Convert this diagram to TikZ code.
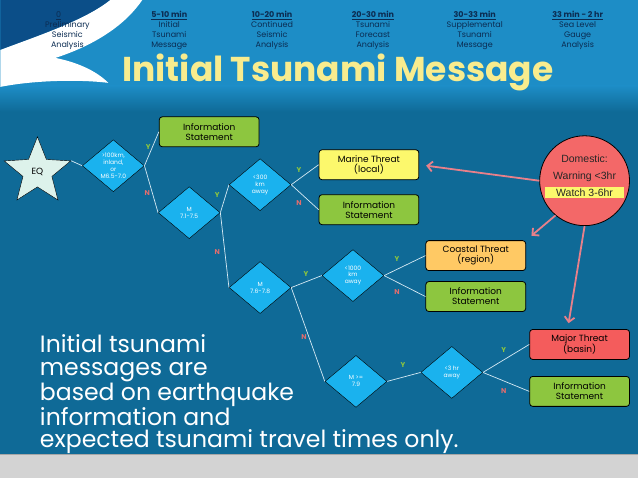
\documentclass[tikz,border=0pt]{standalone}
\usepackage{fontspec}
\setmainfont{Poppins}
\newfontfamily\arialfont{Liberation Sans}
\usetikzlibrary{shapes.geometric,arrows.meta}

\definecolor{mainblue}{HTML}{0F6A97}
\definecolor{topblue}{HTML}{1D8DC6}
\definecolor{cornerblue}{HTML}{0B4E88}
\definecolor{greyband}{HTML}{D3D3D3}
\definecolor{navytext}{HTML}{0B2C52}
\definecolor{titleyellow}{HTML}{F8EC8E}
\definecolor{diablue}{HTML}{1AB2EE}
\definecolor{boxgreen}{HTML}{8DC63F}
\definecolor{boxyellow}{HTML}{FCF86C}
\definecolor{boxorange}{HTML}{FFC964}
\definecolor{boxred}{HTML}{F45C5C}
\definecolor{domred}{HTML}{F36868}
\definecolor{alertpink}{HTML}{E8808A}
\definecolor{starfill}{HTML}{DDF2EB}
\definecolor{ygreen}{HTML}{8DC63F}
\definecolor{nred}{HTML}{E36D6D}
\definecolor{linkcol}{HTML}{D6EAF4}

\begin{document}
\begin{tikzpicture}[x=1pt,y=-1pt,
      dia/.style={
        diamond,
        draw=black,
        fill=diablue,
        text=white,
        minimum width=62pt,
        minimum height=52pt,
        inner sep=0pt,
        align=center,
        font=\fontsize{6}{7}\selectfont  % tiny text inside the diamonds
      },
      infobox/.style={
        rectangle,
        rounded corners=3pt,
        draw=black,
        line width=0.8pt,
        minimum width=100pt,
        minimum height=30pt,
        inner sep=0pt,
        align=center,
        font=\fontsize{9}{10}\selectfont
      },
      timeline/.style={anchor=north, align=center, text=navytext,
        font=\fontsize{8}{10}\selectfont},
      yes/.style={text=ygreen, font=\fontsize{7}{7}\bfseries\selectfont, inner sep=0pt},
      no/.style={text=nred, font=\fontsize{7}{7}\bfseries\selectfont, inner sep=0pt},
      link/.style={draw=linkcol, line width=0.7pt},
      alert/.style={draw=alertpink, line width=1.8pt,
        -{Straight Barb[length=5pt,width=10pt]}}
    ]
      % background
      \fill[mainblue] (0,0) rectangle (638,479);
      \fill[topblue] (0,0) rectangle (638,86);
      \shade[top color=topblue, bottom color=mainblue] (0,86) rectangle (638,112);
      \fill[greyband] (0,455) rectangle (638,479);
      \draw[gray!70, line width=1pt] (0,455.5) -- (638,455.5);
      \fill[cornerblue] (0,0) -- (110,0) .. controls (85,20) and (40,35) .. (0,50) -- cycle;
      \fill[white] (110,0) -- (142,0) .. controls (125,25) and (95,45) .. (55,58)
        .. controls (75,62) and (95,70) .. (108,83)
        .. controls (75,79) and (30,81) .. (0,87) -- (0,50)
        .. controls (40,35) and (85,20) .. (110,0) -- cycle;

      % time line
      \node[timeline] (t1) at (67,8) {\underline{0}\phantom{ min}\\Preliminary\\Seismic\\Analysis};
      \node[timeline] (t2) at (169,8) {\underline{\textbf{5-10 min}}\\Initial\\Tsunami\\Message};
      \node[timeline] (t3) at (272,8) {\underline{\textbf{10-20 min}}\\Continued\\Seismic\\Analysis};
      \node[timeline] (t4) at (373,8) {\underline{\textbf{20-30 min}}\\Tsunami\\Forecast\\Analysis};
      \node[timeline] (t5) at (475,8) {\underline{\textbf{30-33 min}}\\Supplemental\\Tsunami\\Message};
      \node[timeline] (t6) at (578,8) {\underline{\textbf{33 min - 2 hr}}\\Sea Level\\Gauge\\Analysis};

      \node[text=titleyellow, font=\fontsize{34.5}{36}\bfseries\selectfont, anchor=base]
        (title) at (338,82) {Initial Tsunami Message};

      % decision tree
      \node[star, star points=5, star point ratio=2.3, minimum size=70pt, inner sep=0pt,
        draw=black, fill=starfill, font=\fontsize{9}{10}\selectfont] (eq) at (37,172) {EQ};
      \node[dia] (d1) at (113,166) {>100km,\\inland,\\or\\M6.5-7.0};
      \node[dia] (d2) at (189,213) {M\\7.1-7.5};
      \node[dia] (d3) at (260,185) {<300\\km\\away};
      \node[dia] (d4) at (260,288) {M\\7.6-7.8};
      \node[dia] (d5) at (353,276) {<1000\\km\\away};
      \node[dia] (d6) at (356,382) {M >=\\7.9};
      \node[dia] (d7) at (452,373) {<3 hr\\away};

      \node[infobox, fill=boxgreen] (info1) at (209,132) {Information\\Statement};
      \node[infobox, fill=boxyellow] (marine) at (369,165) {Marine Threat\\(local)};
      \node[infobox, fill=boxgreen] (info2) at (369,210) {Information\\Statement};
      \node[infobox, fill=boxorange] (coastal) at (476,256) {Coastal Threat\\(region)};
      \node[infobox, fill=boxgreen] (info3) at (476,297) {Information\\Statement};
      \node[infobox, fill=boxred] (major) at (580,345) {Major Threat\\(basin)};
      \node[infobox, fill=boxgreen] (info4) at (580,392) {Information\\Statement};

      \draw[link] (eq.outer point 5) -- (d1.west);
      \draw[link] (d1.east) -- (info1.west);
      \draw[link] (d1.east) -- (d2.west);
      \draw[link] (d2.east) -- (d3.west);
      \draw[link] (d2.east) -- (d4.west);
      \draw[link] (d3.east) -- (marine.west);
      \draw[link] (d3.east) -- (info2.west);
      \draw[link] (d4.east) -- (d5.west);
      \draw[link] (d4.east) -- (d6.west);
      \draw[link] (d5.east) -- (coastal.west);
      \draw[link] (d5.east) -- (info3.west);
      \draw[link] (d6.east) -- (d7.west);
      \draw[link] (d7.east) -- (major.west);
      \draw[link] (d7.east) -- (info4.west);

      \node[yes] (y1) at (148,147) {Y};
      \node[no] (n1) at (147,193) {N};
      \node[yes] (y2) at (217,195) {Y};
      \node[no] (n2) at (217,252) {N};
      \node[yes] (y3) at (299,170) {Y};
      \node[no] (n3) at (299,203) {N};
      \node[yes] (y4) at (306,274) {Y};
      \node[no] (n4) at (304,338) {N};
      \node[yes] (y5) at (397,259) {Y};
      \node[no] (n5) at (397,292) {N};
      \node[yes] (y6) at (403,366) {Y};
      \node[yes] (y7) at (504,351) {Y};
      \node[no] (n7) at (504,392) {N};

      % domestic alert
      \node[circle, draw=black, line width=0.8pt, fill=domred, minimum size=90pt]
        (dom) at (585,181) {};
      \node[font=\arialfont\fontsize{10.5}{12}\selectfont, text=black!85] (domA) at (585,159) {Domestic:};
      \node[font=\arialfont\fontsize{10.5}{12}\selectfont, text=black!85] (domB) at (585,177) {Warning <3hr};
      \node[font=\arialfont\fontsize{10.5}{12}\selectfont, text=black!85, fill=boxyellow,
        inner sep=1.5pt, minimum width=79pt] (domC) at (585,193) {Watch 3-6hr};
      \draw[alert, shorten >=7pt] (dom.west) -- (marine.east);
      \draw[alert, shorten >=7pt] (dom.230) -- (coastal.north east);
      \draw[alert, shorten >=6pt] (dom.south) -- ([xshift=-12pt]major.north);

      \node[anchor=north west, align=left, text=white, font=\fontsize{23.6}{22.3}\selectfont]
        (note) at (36,332) {Initial tsunami\\messages are\\based on earthquake\\information and\\expected tsunami travel times only.};
    \end{tikzpicture}
\end{document}
